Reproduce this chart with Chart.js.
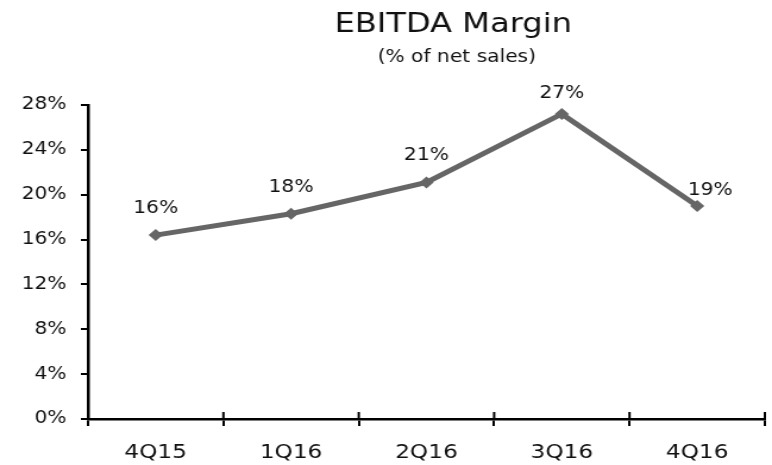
<!DOCTYPE html>
<html>
<head>
<meta charset="utf-8">
<script src="https://cdn.jsdelivr.net/npm/chart.js@4/dist/chart.umd.min.js"></script>
<style>
  html, body { margin: 0; padding: 0; background: #fff; }
  #wykres { display: block; }
</style>
</head>
<body>
<!-- the reference glyphs are wider than tall, so draw narrow and stretch horizontally -->
<canvas id="wykres" width="649" height="465" style="width:772px;height:465px"></canvas>
<script>
// dane
const kwartaly = ['4Q15', '1Q16', '2Q16', '3Q16', '4Q16'];
const marzaEbitda = [16.4, 18.3, 21.1, 27.2, 19.0];
const etykietyMarzy = ['16%', '18%', '21%', '27%', '19%'];
const tytul = 'EBITDA Margin';
const podtytul = '(% of net sales)';

const FONT = '"DejaVu Sans", Verdana, sans-serif';

/**
 * Tytuł, podtytuł i etykiety nad punktami
 */
const napisyPlugin = {
    id: 'napisy',
    afterDatasetsDraw(chart, args, opts) {
        const ctx = chart.ctx;
        ctx.save();
        ctx.fillStyle = '#111';
        ctx.textAlign = 'center';
        ctx.textBaseline = 'alphabetic';

        ctx.font = '27px ' + FONT;
        ctx.fillText(tytul, opts.tytulX, opts.tytulY);
        ctx.font = '17px ' + FONT;
        ctx.fillText(podtytul, opts.tytulX + 3, opts.podtytulY);

        const meta = chart.getDatasetMeta(0);
        meta.data.forEach((pt, i) => {
            const [dx, dy] = opts.przesuniecia[i];
            ctx.fillText(etykietyMarzy[i], pt.x + dx, pt.y + dy);
        });
        ctx.restore();
    }
};

/**
 * Kreski osi X przechodzą przez oś (część nad osią)
 */
const kreskiPlugin = {
    id: 'kreski',
    afterDraw(chart) {
        const x = chart.scales.x;
        const ctx = chart.ctx;
        ctx.save();
        ctx.strokeStyle = '#000';
        ctx.lineWidth = 2;
        for (let i = 0; i <= kwartaly.length; i++) {
            const px = x.getPixelForValue(i - 0.5);
            ctx.beginPath();
            ctx.moveTo(px, x.top - 7);
            ctx.lineTo(px, x.top);
            ctx.stroke();
        }
        ctx.restore();
    }
};

const ctx = document.getElementById('wykres').getContext('2d');

new Chart(ctx, {
    type: 'line',
    data: {
        labels: kwartaly,
        datasets: [{
            label: 'EBITDA Margin',
            data: marzaEbitda,
            borderColor: '#666666',
            backgroundColor: '#666666',
            borderWidth: 5,
            pointStyle: 'rectRot',
            pointRadius: 6,
            pointBorderWidth: 0,
            tension: 0
        }]
    },
    options: {
        responsive: false,
        animation: false,
        devicePixelRatio: 1,
        layout: { padding: { top: 105, right: 1, bottom: 0, left: 0 } },
        plugins: {
            legend: { display: false },
            tooltip: { enabled: false },
            napisy: {
                tytulX: 381,
                tytulY: 32,
                podtytulY: 62,
                przesuniecia: [[0, -22], [0, -22], [0, -22], [0, -16], [11, -11]]
            }
        },
        scales: {
            x: {
                offset: true,
                grid: {
                    offset: true,
                    drawOnChartArea: false,
                    drawTicks: true,
                    tickLength: 7,
                    color: '#000',
                    lineWidth: 2
                },
                border: { display: true, color: '#000', width: 2.5 },
                ticks: {
                    color: '#111',
                    font: { family: FONT, size: 19.5 },
                    padding: 15,
                    maxRotation: 0
                },
                afterFit(scale) { scale.height = 46; }
            },
            y: {
                min: 0,
                max: 28,
                grid: {
                    drawOnChartArea: false,
                    drawTicks: true,
                    tickLength: 6,
                    color: '#000',
                    lineWidth: 2
                },
                border: { display: true, color: '#000', width: 2.5 },
                ticks: {
                    stepSize: 4,
                    color: '#111',
                    font: { family: FONT, size: 17 },
                    padding: 12,
                    callback: v => v + '%'
                },
                afterFit(scale) { scale.width = 74; }
            }
        }
    },
    plugins: [napisyPlugin, kreskiPlugin]
});
</script>
</body>
</html>
